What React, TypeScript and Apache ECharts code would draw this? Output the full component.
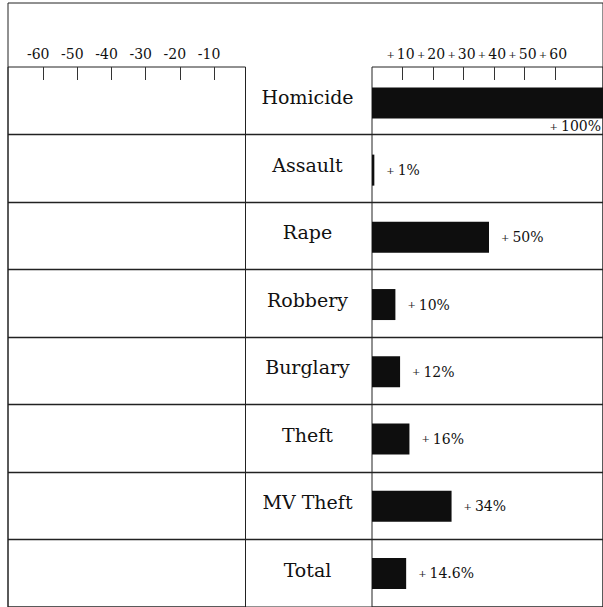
import React, { useEffect, useRef } from "react";
import * as echarts from "echarts";

const categories = ["Homicide", "Assault", "Rape", "Robbery", "Burglary", "Theft", "MV Theft", "Total"];
const changes = [100, 1, 50, 10, 12, 16, 34, 14.6];
const leftTicks = [-60, -50, -40, -30, -20, -10];
const rightTicks = [10, 20, 30, 40, 50, 60];

const FONT = "DejaVu Serif";
const INK = "#111";
const LINE = "#222";

export default function App() {
  const ref = useRef<HTMLDivElement>(null);

  useEffect(() => {
    if (!ref.current) return;
    const chart = echarts.init(ref.current, undefined, { renderer: "svg" });

    const rowTop = 67;
    const rowH = 68.6;
    const gridH = rowH * categories.length;
    const tickPx = 3.432; // px per unit on the printed tick scale
    const barPx = 2.34; // px per percent for the printed bars
    const rightW = 260;

    const tickAxisCommon = {
      type: "value" as const,
      position: "top" as const,
      axisLine: { show: false },
      splitLine: { show: false },
      axisTick: {
        show: true,
        inside: true,
        length: 13,
        lineStyle: { color: "#333", width: 1 },
      },
    };

    const option: any = {
      animation: false,
      backgroundColor: "#fff",
      grid: [
        // outer frame
        { left: 8, top: 3, width: 800, height: 800, show: true, borderColor: LINE, borderWidth: 1, backgroundColor: "transparent" },
        // left panel
        { left: 8, top: rowTop, width: 237.5, height: gridH, show: true, borderColor: LINE, borderWidth: 1, backgroundColor: "transparent" },
        // row separators across everything
        { left: 8, top: rowTop, width: 600, height: gridH, show: false },
        // right panel (ticks)
        { left: 372, top: rowTop, width: rightW, height: gridH, show: true, borderColor: LINE, borderWidth: 1, backgroundColor: "transparent" },
        // bars
        { left: 372, top: rowTop + 2.3, width: 231, height: gridH, show: false },
      ],
      xAxis: [
        { gridIndex: 0, type: "value", show: false, min: 0, max: 1 },
        {
          ...tickAxisCommon,
          gridIndex: 1,
          min: -70.3,
          max: -0.8,
          axisTick: { ...tickAxisCommon.axisTick, customValues: leftTicks },
          axisLabel: {
            show: true,
            customValues: leftTicks,
            margin: 6,
            formatter: (v: number) => `{a|-${Math.abs(v)}}`,
            rich: { a: { fontFamily: FONT, fontSize: 14, color: INK, padding: [0, 10, 0, 0] } },
          },
        },
        { gridIndex: 2, type: "value", show: false, min: 0, max: 1 },
        {
          ...tickAxisCommon,
          gridIndex: 3,
          min: 0,
          max: rightW / tickPx,
          axisTick: { ...tickAxisCommon.axisTick, customValues: rightTicks },
          axisLabel: {
            show: true,
            customValues: rightTicks,
            margin: 6,
            formatter: (v: number) => `{p|+}{a|${v}}`,
            rich: {
              p: { fontFamily: FONT, fontSize: 10, color: "#222", padding: [0, 2, 0, 0] },
              a: { fontFamily: FONT, fontSize: 14, color: INK, padding: [0, 4, 0, 0] },
            },
          },
        },
        { gridIndex: 4, type: "value", show: false, min: 0, max: 231 / barPx },
      ],
      yAxis: [
        { gridIndex: 0, type: "value", show: false, min: 0, max: 1 },
        {
          gridIndex: 1,
          type: "category",
          inverse: true,
          position: "right",
          data: categories,
          axisLine: { show: false },
          axisTick: { show: false },
          splitLine: { show: false },
          axisLabel: {
            show: true,
            align: "center",
            margin: 62,
            formatter: (v: string) => `{c|${v}}`,
            rich: {
              c: { fontFamily: FONT, fontSize: 19, color: INK, padding: [0, 0, 7, 0] },
            },
          },
        },
        {
          gridIndex: 2,
          type: "category",
          inverse: true,
          data: categories,
          axisLine: { show: false },
          axisTick: { show: false },
          axisLabel: { show: false },
          splitLine: { show: true, showMinLine: false, showMaxLine: false, lineStyle: { color: LINE, width: 1.3 } },
        },
        { gridIndex: 3, type: "category", inverse: true, data: categories, show: false },
        { gridIndex: 4, type: "category", inverse: true, data: categories, show: false },
      ],
      series: [
        {
          type: "bar",
          xAxisIndex: 4,
          yAxisIndex: 4,
          clip: true,
          barWidth: 31,
          itemStyle: { color: "#0e0e0e" },
          label: {
            show: true,
            position: "right",
            distance: 12,
            formatter: (p: any) => `{p|+}{v|${p.value}%}`,
            rich: {
              p: { fontFamily: FONT, fontSize: 10, color: "#222", padding: [0, 3, 0, 0] },
              v: { fontFamily: FONT, fontSize: 14, color: INK },
            },
          },
          data: changes.map((v, i) =>
            i === 0
              ? {
                  value: v,
                  label: {
                    position: ["100%", "100%"],
                    align: "right",
                    verticalAlign: "top",
                    offset: [-2, 1],
                    distance: 0,
                  },
                }
              : v
          ),
        },
      ],
    };

    chart.setOption(option);
    return () => chart.dispose();
  }, []);

  return (
    <div
      ref={ref}
      style={{ position: "fixed", left: 0, top: 0, width: 603, height: 607, background: "#fff" }}
    />
  );
}
